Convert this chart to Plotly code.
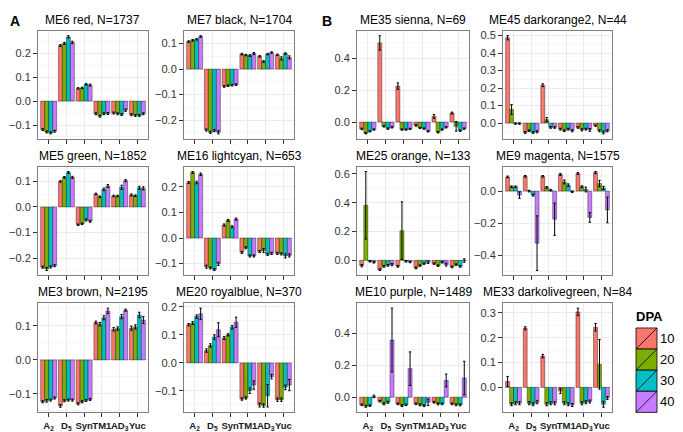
import plotly.graph_objects as go

# categories / DPA groups
categories = ["A2", "D5", "Syn", "TM1", "AD3", "Yuc"]
tick_labels = ["A<sub>2</sub>", "D<sub>5</sub>", "Syn", "TM1", "AD<sub>3</sub>", "Yuc"]
dpa = ["10", "20", "30", "40"]
dpa_colors = ["#F8766D", "#7CAE00", "#00BFC4", "#C77CFF"]

# module eigengene means, one row per DPA (10, 20, 30, 40)
me6_red = [[-0.119, 0.232, 0.053, -0.053, -0.050, -0.057],
           [-0.129, 0.241, 0.055, -0.063, -0.053, -0.060],
           [-0.133, 0.268, 0.070, -0.053, -0.056, -0.060],
           [-0.126, 0.245, 0.067, -0.052, -0.038, -0.053]]
me6_red_err = [[0.004, 0.004, 0.003, 0.004, 0.004, 0.004],
               [0.004, 0.004, 0.003, 0.004, 0.004, 0.004],
               [0.004, 0.005, 0.003, 0.004, 0.004, 0.004],
               [0.004, 0.005, 0.004, 0.004, 0.005, 0.004]]

me7_black = [[0.108, -0.239, -0.068, 0.059, 0.050, 0.056],
             [0.113, -0.248, -0.065, 0.055, 0.030, 0.042],
             [0.117, -0.241, -0.063, 0.053, 0.059, 0.061],
             [0.128, -0.248, -0.061, 0.061, 0.065, 0.046]]
me7_black_err = [[0.003, 0.004, 0.003, 0.003, 0.003, 0.003],
                 [0.003, 0.004, 0.003, 0.003, 0.003, 0.006],
                 [0.003, 0.004, 0.003, 0.003, 0.003, 0.003],
                 [0.003, 0.006, 0.003, 0.004, 0.003, 0.006]]

me5_green = [[-0.236, 0.100, -0.070, 0.051, 0.043, 0.047],
             [-0.243, 0.116, -0.066, 0.040, 0.043, 0.044],
             [-0.235, 0.135, -0.051, 0.069, 0.077, 0.075],
             [-0.230, 0.116, -0.056, 0.082, 0.103, 0.073]]
me5_green_err = [[0.004, 0.003, 0.003, 0.003, 0.003, 0.004],
                 [0.006, 0.003, 0.003, 0.003, 0.003, 0.003],
                 [0.004, 0.004, 0.004, 0.005, 0.008, 0.006],
                 [0.004, 0.004, 0.004, 0.006, 0.004, 0.006]]

me16_lightcyan = [[0.217, -0.112, 0.051, -0.056, -0.053, -0.060],
                  [0.256, -0.117, 0.069, -0.038, -0.049, -0.062],
                  [0.217, -0.123, 0.044, -0.070, -0.064, -0.070],
                  [0.249, -0.101, 0.074, -0.070, -0.060, -0.068]]
me16_lightcyan_err = [[0.004, 0.006, 0.004, 0.004, 0.004, 0.004],
                      [0.004, 0.004, 0.004, 0.004, 0.008, 0.004],
                      [0.005, 0.004, 0.004, 0.004, 0.004, 0.008],
                      [0.005, 0.006, 0.004, 0.004, 0.004, 0.006]]

me3_brown = [[-0.123, -0.135, -0.129, 0.110, 0.090, 0.093],
             [-0.120, -0.120, -0.123, 0.105, 0.092, 0.097],
             [-0.118, -0.118, -0.119, 0.124, 0.127, 0.132],
             [-0.112, -0.118, -0.116, 0.144, 0.146, 0.117]]
me3_brown_err = [[0.003, 0.004, 0.003, 0.004, 0.005, 0.006],
                 [0.004, 0.003, 0.003, 0.005, 0.005, 0.006],
                 [0.003, 0.003, 0.003, 0.006, 0.006, 0.008],
                 [0.003, 0.003, 0.003, 0.008, 0.003, 0.010]]

me20_royalblue = [[0.136, 0.044, 0.089, -0.129, -0.150, -0.131],
                  [0.142, 0.062, 0.100, -0.125, -0.152, -0.131],
                  [0.165, 0.092, 0.127, -0.099, -0.117, -0.087],
                  [0.175, 0.118, 0.145, -0.079, -0.049, -0.079]]
me20_royalblue_err = [[0.004, 0.006, 0.005, 0.004, 0.007, 0.006],
                      [0.005, 0.006, 0.004, 0.004, 0.006, 0.006],
                      [0.006, 0.008, 0.006, 0.010, 0.040, 0.008],
                      [0.020, 0.025, 0.018, 0.015, 0.008, 0.020]]

me35_sienna = [[-0.043, 0.495, 0.225, -0.021, 0.035, 0.056],
               [-0.070, -0.027, -0.047, -0.037, -0.064, -0.027],
               [-0.058, -0.041, -0.047, -0.041, -0.047, -0.054],
               [-0.047, -0.033, -0.043, -0.058, -0.033, -0.041]]
me35_sienna_err = [[0.005, 0.045, 0.020, 0.005, 0.012, 0.006],
                   [0.004, 0.004, 0.004, 0.004, 0.004, 0.030],
                   [0.004, 0.005, 0.004, 0.004, 0.004, 0.004],
                   [0.004, 0.004, 0.004, 0.004, 0.004, 0.004]]

me45_darkorange2 = [[0.487, -0.054, 0.216, -0.035, -0.025, -0.015],
                    [0.077, -0.044, 0.019, -0.044, -0.039, -0.044],
                    [-0.003, -0.054, -0.025, -0.035, -0.035, -0.054],
                    [-0.003, -0.050, -0.025, -0.044, -0.039, -0.044]]
me45_darkorange2_err = [[0.012, 0.005, 0.008, 0.005, 0.005, 0.004],
                        [0.028, 0.005, 0.012, 0.005, 0.006, 0.006],
                        [0.004, 0.005, 0.005, 0.005, 0.005, 0.008],
                        [0.004, 0.006, 0.005, 0.006, 0.008, 0.006]]

me25_orange = [[-0.037, -0.065, -0.042, -0.053, -0.023, -0.046],
               [0.382, -0.042, 0.206, -0.037, -0.037, -0.030],
               [-0.007, -0.035, -0.007, -0.023, -0.014, -0.042],
               [-0.014, -0.030, -0.012, -0.014, -0.030, -0.002]]
me25_orange_err = [[0.008, 0.006, 0.006, 0.006, 0.005, 0.006],
                   [0.235, 0.006, 0.200, 0.005, 0.005, 0.005],
                   [0.005, 0.006, 0.005, 0.005, 0.005, 0.006],
                   [0.005, 0.008, 0.005, 0.008, 0.010, 0.012]]

me9_magenta = [[0.088, 0.092, 0.092, 0.103, 0.109, 0.115],
               [0.027, 0.000, 0.023, 0.057, 0.027, 0.047],
               [0.027, -0.025, 0.006, 0.037, 0.010, 0.020],
               [-0.025, -0.324, -0.175, -0.004, -0.164, -0.117]]
me9_magenta_err = [[0.005, 0.005, 0.005, 0.006, 0.006, 0.007],
                   [0.005, 0.005, 0.005, 0.012, 0.006, 0.020],
                   [0.005, 0.006, 0.005, 0.008, 0.015, 0.010],
                   [0.020, 0.170, 0.100, 0.005, 0.030, 0.080]]

me10_purple = [[-0.048, -0.025, -0.042, -0.042, -0.032, -0.042],
               [-0.057, -0.042, -0.053, -0.048, -0.042, -0.048],
               [-0.053, -0.032, -0.048, -0.053, -0.042, -0.048],
               [0.005, 0.358, 0.179, -0.032, 0.105, 0.120]]
me10_purple_err = [[0.005, 0.005, 0.005, 0.005, 0.005, 0.005],
                   [0.006, 0.006, 0.006, 0.006, 0.006, 0.006],
                   [0.005, 0.006, 0.005, 0.005, 0.005, 0.006],
                   [0.008, 0.200, 0.105, 0.020, 0.040, 0.105]]

me33_darkolivegreen = [[0.024, 0.238, 0.126, -0.015, 0.304, 0.242],
                       [-0.068, -0.064, -0.068, -0.064, -0.064, 0.093],
                       [-0.064, -0.068, -0.064, -0.068, -0.060, -0.068],
                       [-0.064, -0.060, -0.064, -0.071, -0.057, -0.043]]
me33_darkolivegreen_err = [[0.020, 0.006, 0.007, 0.010, 0.015, 0.015],
                           [0.006, 0.006, 0.006, 0.006, 0.006, 0.100],
                           [0.006, 0.006, 0.006, 0.006, 0.006, 0.012],
                           [0.006, 0.006, 0.006, 0.006, 0.006, 0.006]]

panel_titles = ["ME6 red, N=1737", "ME7 black, N=1704",
                "ME5 green, N=1852", "ME16 lightcyan, N=653",
                "ME3 brown, N=2195", "ME20 royalblue, N=370",
                "ME35 sienna, N=69", "ME45 darkorange2, N=44",
                "ME25 orange, N=133", "ME9 magenta, N=1575",
                "ME10 purple, N=1489", "ME33 darkolivegreen, N=84"]
panel_values = [me6_red, me7_black, me5_green, me16_lightcyan, me3_brown, me20_royalblue,
                me35_sienna, me45_darkorange2, me25_orange, me9_magenta, me10_purple,
                me33_darkolivegreen]
panel_errors = [me6_red_err, me7_black_err, me5_green_err, me16_lightcyan_err, me3_brown_err,
                me20_royalblue_err, me35_sienna_err, me45_darkorange2_err, me25_orange_err,
                me9_magenta_err, me10_purple_err, me33_darkolivegreen_err]

# layout in window pixels; the page body adds an 8px offset, so the figure is
# made smaller and positions are shifted back by that amount
OFF = 8
W, H = 683 - OFF, 432 - OFF
col_px = [(38, 148), (184, 294), (357, 469), (503, 612)]
row_px = [(28, 137), (165, 275), (303, 413)]
y_dticks = [0.1, 0.1, 0.1, 0.1, 0.1, 0.1, 0.2, 0.1, 0.2, 0.2, 0.2, 0.1]


def px(x):
    return (x - OFF) / W


def py(y):
    return 1 - (y - OFF) / H


fig = go.Figure()
annotations = []
shapes = []

for i, title in enumerate(panel_titles):
    group = i // 6        # 0 = A, 1 = B
    k = i % 6
    row = k // 2
    col = group * 2 + k % 2
    n = i + 1
    xa = "x" if n == 1 else f"x{n}"
    ya = "y" if n == 1 else f"y{n}"

    vals = panel_values[i]
    errs = panel_errors[i]
    for j, d in enumerate(dpa):
        fig.add_trace(go.Bar(
            x=categories, y=vals[j], name=d,
            marker=dict(color=dpa_colors[j], line=dict(color="rgba(0,0,0,0.75)", width=0.5)),
            error_y=dict(type="data", array=errs[j], color="black", thickness=1, width=1.2),
            xaxis=xa, yaxis=ya, showlegend=False,
            offsetgroup=d,
        ))

    # ggplot-like range: data incl. error bars, 5% padding
    lo = min(0, min(v - e for vr, er in zip(vals, errs) for v, e in zip(vr, er)))
    hi = max(0, max(v + e for vr, er in zip(vals, errs) for v, e in zip(vr, er)))
    pad = 0.05 * (hi - lo)

    x0, x1 = col_px[col]
    y0, y1 = row_px[row]
    dt = y_dticks[i]
    fig.layout[f"xaxis{n if n > 1 else ''}"] = dict(
        domain=[px(x0), px(x1)], anchor=ya, type="category",
        categoryorder="array", categoryarray=categories,
        range=[-0.6, 5.6], tickvals=categories, ticktext=tick_labels,
        showticklabels=(row == 2), tickangle=0,
        ticks="outside", ticklen=4, tickcolor="#333333",
        tickfont=dict(size=9.5, color="#1a1a1a", weight="bold"),
        showgrid=True, gridcolor="#EBEBEB", gridwidth=1,
        showline=True, linecolor="#7F7F7F", linewidth=1, mirror=True,
        zeroline=False, fixedrange=True,
    )
    fig.layout[f"yaxis{n if n > 1 else ''}"] = dict(
        domain=[py(y1), py(y0)], anchor=xa,
        range=[lo - pad, hi + pad], dtick=dt, tick0=0, tickformat=".1f",
        ticks="outside", ticklen=4, tickcolor="#333333",
        tickfont=dict(size=11, color="#333333"),
        showgrid=True, gridcolor="#EBEBEB", gridwidth=1,
        minor=dict(dtick=dt / 2, tick0=0, showgrid=True, gridcolor="#F5F5F5", ticks=""),
        showline=True, linecolor="#7F7F7F", linewidth=1, mirror=True,
        zeroline=False, fixedrange=True,
    )
    annotations.append(dict(
        text=title, x=px((x0 + x1) / 2), y=py(y0 - 2), xref="paper", yref="paper",
        xanchor="center", yanchor="bottom", showarrow=False,
        font=dict(size=12, color="black"),
    ))

# panel letters
annotations.append(dict(text="<b>A</b>", x=px(OFF), y=py(OFF), xref="paper", yref="paper",
                        xanchor="left", yanchor="top", showarrow=False,
                        font=dict(size=14, color="black")))
annotations.append(dict(text="<b>B</b>", x=px(320), y=py(OFF), xref="paper", yref="paper",
                        xanchor="left", yanchor="top", showarrow=False,
                        font=dict(size=14, color="black")))

# legend drawn by hand (ggplot-style keys with slash)
annotations.append(dict(text="<b>DPA</b>", x=px(634), y=py(326), xref="paper", yref="paper",
                        xanchor="left", yanchor="bottom", showarrow=False,
                        font=dict(size=13, color="black")))
key_top, key_h, kx0, kx1 = 328, 21.3, 636, 657
for j, d in enumerate(dpa):
    ky0 = key_top + j * key_h
    ky1 = ky0 + key_h
    shapes.append(dict(type="rect", xref="paper", yref="paper",
                       x0=px(kx0), x1=px(kx1), y0=py(ky1), y1=py(ky0),
                       fillcolor=dpa_colors[j], line=dict(color="black", width=0.8)))
    shapes.append(dict(type="line", xref="paper", yref="paper",
                       x0=px(kx0), x1=px(kx1), y0=py(ky1), y1=py(ky0),
                       line=dict(color="black", width=0.8)))
    annotations.append(dict(text=d, x=px(658), y=py((ky0 + ky1) / 2), xref="paper", yref="paper",
                            xanchor="left", yanchor="middle", showarrow=False,
                            font=dict(size=13, color="black")))

fig.update_layout(
    width=W, height=H,
    margin=dict(l=0, r=0, t=0, b=0),
    paper_bgcolor="white", plot_bgcolor="white",
    font=dict(family="Liberation Sans, Arial, sans-serif"),
    barmode="group", bargap=0.1, bargroupgap=0,
    annotations=annotations, shapes=shapes,
    showlegend=False,
)

fig.write_html("out.html")
